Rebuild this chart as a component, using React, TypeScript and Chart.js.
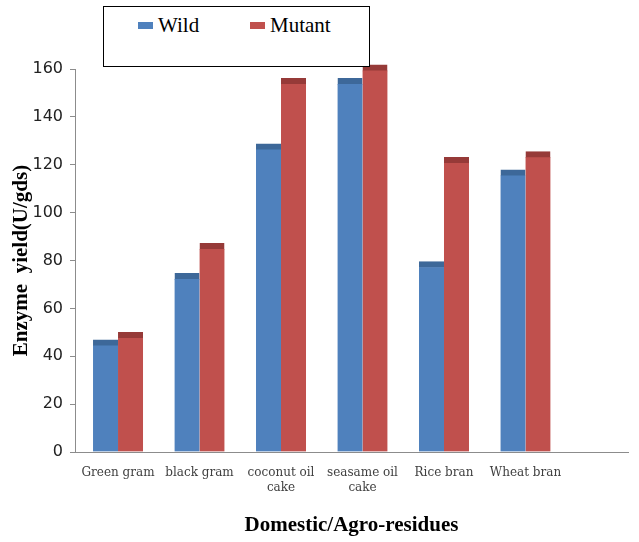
import React, { useEffect, useRef } from "react";
import { Chart, registerables } from "chart.js";

Chart.register(...registerables);

const categories: string[][] = [
  ["Green gram"],
  ["black gram"],
  ["coconut oil", "cake"],
  ["seasame oil", "cake"],
  ["Rice bran"],
  ["Wheat bran"],
];
const seriesNames = ["Wild", "Mutant"];
const wildValues = [46.9, 74.6, 128.7, 156.1, 79.6, 117.9];
const mutantValues = [50.0, 87.2, 156.1, 161.7, 123.1, 125.5];
const seriesColors = ["#4F81BD", "#C0504D"];
const seriesCapColors = ["#3D6899", "#963A38"];
const yTicks = [0, 20, 40, 60, 80, 100, 120, 140, 160];

export default function App() {
  const ref = useRef<HTMLCanvasElement | null>(null);

  useEffect(() => {
    if (!ref.current) return;
    const series = [wildValues, mutantValues];
    const chart = new Chart(ref.current, {
      type: "bar",
      data: {
        datasets: series.map((vals, si) => ({
          label: seriesNames[si],
          data: vals.map((v, i) => ({ x: i, y: v })),
          backgroundColor: seriesColors[si],
          borderColor: seriesCapColors[si],
          borderWidth: { top: 6, left: 0, right: 0, bottom: 0 },
          borderSkipped: false,
          barThickness: 25,
          clip: false,
        })),
      },
      options: {
        responsive: false,
        animation: false,
        layout: { padding: { top: 69, right: 11, left: 0, bottom: 0 } },
        plugins: {
          legend: { display: false },
          tooltip: { enabled: false },
        },
        scales: {
          x: {
            type: "linear",
            offset: false,
            min: -0.528,
            max: 6.258,
            grid: { display: false, drawTicks: false, offset: false },
            border: { display: true, color: "#8c8c8c", width: 1 },
            ticks: {
              stepSize: 1,
              includeBounds: false,
              autoSkip: false,
              maxRotation: 0,
              padding: 14,
              color: "#404040",
              font: { family: "DejaVu Serif", size: 12 },
              callback: (v: any) => {
                const n = Number(v);
                if (Number.isInteger(n) && n >= 0 && n < categories.length) return categories[n];
                return "";
              },
            },
            title: {
              display: true,
              text: "Domestic/Agro-residues",
              color: "#000",
              font: { family: "Liberation Serif", size: 21, weight: "bold" },
              padding: { top: 0, bottom: 4 },
            },
            afterFit: (scale: any) => {
              scale.height = 90;
            },
          },
          y: {
            min: 0,
            max: 160,
            afterBuildTicks: (scale: any) => {
              scale.ticks = yTicks.map((v) => ({ value: v }));
            },
            grid: {
              display: true,
              drawOnChartArea: false,
              drawTicks: true,
              tickLength: 5,
              color: "#8c8c8c",
            },
            border: { display: true, color: "#8c8c8c", width: 1 },
            ticks: {
              padding: 7,
              color: "#222",
              font: { family: "DejaVu Sans", size: 16 },
            },
            title: {
              display: true,
              text: "Enzyme  yield(U/gds)",
              color: "#000",
              font: { family: "Liberation Serif", size: 21, weight: "bold" },
              padding: { top: 9, bottom: 0 },
            },
            afterFit: (scale: any) => {
              scale.width = 75;
            },
          },
        },
      } as any,
    });
    return () => chart.destroy();
  }, []);

  return (
    <div style={{ position: "absolute", left: 0, top: 0, width: 639, height: 542, background: "#fff" }}>
      <canvas ref={ref} width={639} height={542} style={{ position: "absolute", left: 0, top: 0 }} />
      <div
        style={{
          position: "absolute",
          left: 103,
          top: 6,
          width: 265,
          height: 59,
          border: "1px solid #000",
          background: "#fff",
          fontFamily: "Liberation Serif",
          fontSize: 21,
          color: "#000",
        }}
      >
        {seriesNames.map((name, i) => (
          <div
            key={name}
            style={{
              position: "absolute",
              left: i === 0 ? 34 : 146,
              top: 6,
              display: "flex",
              alignItems: "center",
              lineHeight: "24px",
            }}
          >
            <span
              style={{
                display: "inline-block",
                width: 15,
                height: 7,
                background: seriesColors[i],
                marginRight: 5,
              }}
            />
            <span>{name}</span>
          </div>
        ))}
      </div>
    </div>
  );
}
